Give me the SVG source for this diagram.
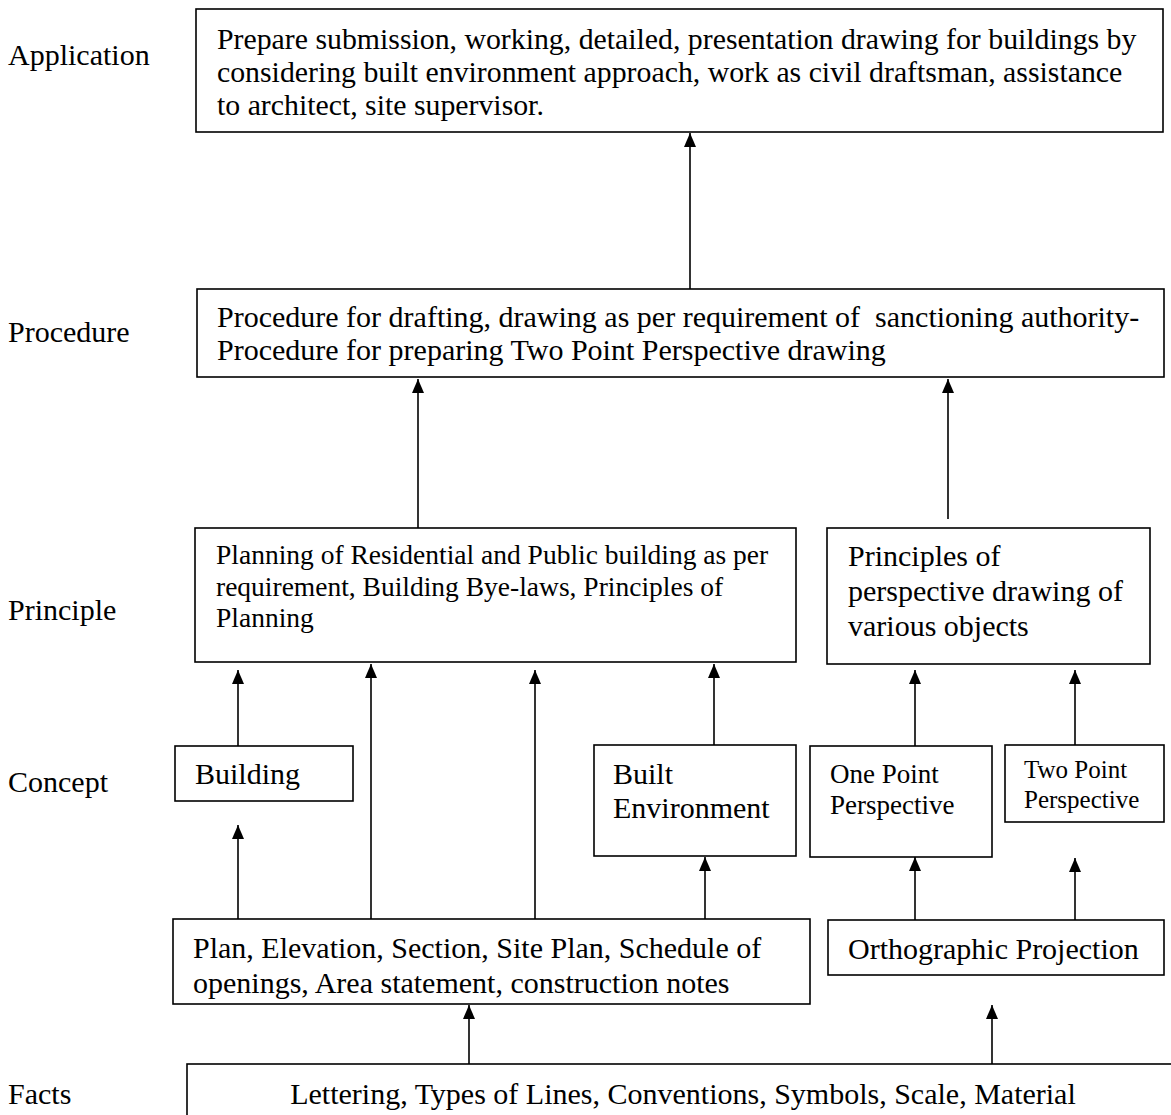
<svg xmlns="http://www.w3.org/2000/svg" width="1171" height="1115" viewBox="0 0 1171 1115">
<defs>
<marker id="ah" viewBox="0 0 14 12" refX="14" refY="6" markerWidth="14" markerHeight="12" markerUnits="userSpaceOnUse" orient="auto">
<path d="M0,0 L14,6 L0,12 Z" fill="#000"/>
</marker>
<style>
.box{fill:#fff;stroke:#000;stroke-width:1.6}
.t{font-family:"Liberation Serif","Times New Roman",serif;fill:#000}
.lbl{font-family:"Liberation Serif","Times New Roman",serif;font-size:30px;fill:#000}
.c{stroke:#000;stroke-width:1.6;fill:none}
</style>
</defs>
<rect width="1171" height="1115" fill="#fff"/>
<g id="labels">
<text class="lbl" x="8" y="65">Application</text>
<text class="lbl" x="8" y="342">Procedure</text>
<text class="lbl" x="8" y="620">Principle</text>
<text class="lbl" x="8" y="792">Concept</text>
<text class="lbl" x="8" y="1104">Facts</text>
</g>
<g id="connectors">
<line class="c" x1="690" y1="289" x2="690" y2="133" marker-end="url(#ah)"/>
<line class="c" x1="418" y1="528" x2="418" y2="379" marker-end="url(#ah)"/>
<line class="c" x1="948" y1="519" x2="948" y2="379" marker-end="url(#ah)"/>
<line class="c" x1="238" y1="746" x2="238" y2="670" marker-end="url(#ah)"/>
<line class="c" x1="371" y1="919" x2="371" y2="664" marker-end="url(#ah)"/>
<line class="c" x1="535" y1="919" x2="535" y2="670" marker-end="url(#ah)"/>
<line class="c" x1="714" y1="745" x2="714" y2="664" marker-end="url(#ah)"/>
<line class="c" x1="915" y1="746" x2="915" y2="670" marker-end="url(#ah)"/>
<line class="c" x1="1075" y1="745" x2="1075" y2="670" marker-end="url(#ah)"/>
<line class="c" x1="238" y1="919" x2="238" y2="825" marker-end="url(#ah)"/>
<line class="c" x1="705" y1="919" x2="705" y2="857" marker-end="url(#ah)"/>
<line class="c" x1="915" y1="920" x2="915" y2="857" marker-end="url(#ah)"/>
<line class="c" x1="1075" y1="920" x2="1075" y2="858" marker-end="url(#ah)"/>
<line class="c" x1="469" y1="1064" x2="469" y2="1005" marker-end="url(#ah)"/>
<line class="c" x1="992" y1="1064" x2="992" y2="1005" marker-end="url(#ah)"/>
</g>
<g id="application">
<rect class="box" x="196" y="9" width="967" height="123"/>
<text class="t" font-size="29.8" x="217" y="49">Prepare submission, working, detailed, presentation drawing for buildings by</text>
<text class="t" font-size="29.8" x="217" y="82">considering built environment approach, work as civil draftsman, assistance</text>
<text class="t" font-size="29.8" x="217" y="115">to architect, site supervisor.</text>
</g>
<g id="procedure">
<rect class="box" x="197" y="289" width="967" height="88"/>
<text class="t" font-size="30" x="217" y="327" xml:space="preserve">Procedure for drafting, drawing as per requirement of  sanctioning authority-</text>
<text class="t" font-size="30" x="217" y="360">Procedure for preparing Two Point Perspective drawing</text>
</g>
<g id="planning">
<rect class="box" x="195" y="528" width="601" height="134"/>
<text class="t" font-size="27.5" x="216" y="564">Planning of Residential and Public building as per</text>
<text class="t" font-size="27.5" x="216" y="596">requirement, Building Bye-laws, Principles of</text>
<text class="t" font-size="27.5" x="216" y="627">Planning</text>
</g>
<g id="principles">
<rect class="box" x="827" y="528" width="323" height="136"/>
<text class="t" font-size="30" x="848" y="566">Principles of</text>
<text class="t" font-size="30" x="848" y="601">perspective drawing of</text>
<text class="t" font-size="30" x="848" y="636">various objects</text>
</g>
<g id="building">
<rect class="box" x="175" y="746" width="178" height="55"/>
<text class="t" font-size="30" x="195" y="784">Building</text>
</g>
<g id="built-environment">
<rect class="box" x="594" y="745" width="202" height="111"/>
<text class="t" font-size="30" x="613" y="784">Built</text>
<text class="t" font-size="30" x="613" y="818">Environment</text>
</g>
<g id="one-point">
<rect class="box" x="810" y="746" width="182" height="111"/>
<text class="t" font-size="27" x="830" y="783">One Point</text>
<text class="t" font-size="27" x="830" y="814">Perspective</text>
</g>
<g id="two-point">
<rect class="box" x="1005" y="745" width="159" height="77"/>
<text class="t" font-size="25" x="1024" y="778">Two Point</text>
<text class="t" font-size="25" x="1024" y="808">Perspective</text>
</g>
<g id="plan-elevation">
<rect class="box" x="173" y="919" width="637" height="85"/>
<text class="t" font-size="30" x="193" y="958">Plan, Elevation, Section, Site Plan, Schedule of</text>
<text class="t" font-size="30" x="193" y="993">openings, Area statement, construction notes</text>
</g>
<g id="orthographic">
<rect class="box" x="828" y="920" width="336" height="55"/>
<text class="t" font-size="30" x="848" y="959">Orthographic Projection</text>
</g>
<g id="facts">
<rect class="box" x="187" y="1064" width="1000" height="100"/>
<text class="t" font-size="30" x="683" y="1104" text-anchor="middle">Lettering, Types of Lines, Conventions, Symbols, Scale, Material</text>
</g>
</svg>
